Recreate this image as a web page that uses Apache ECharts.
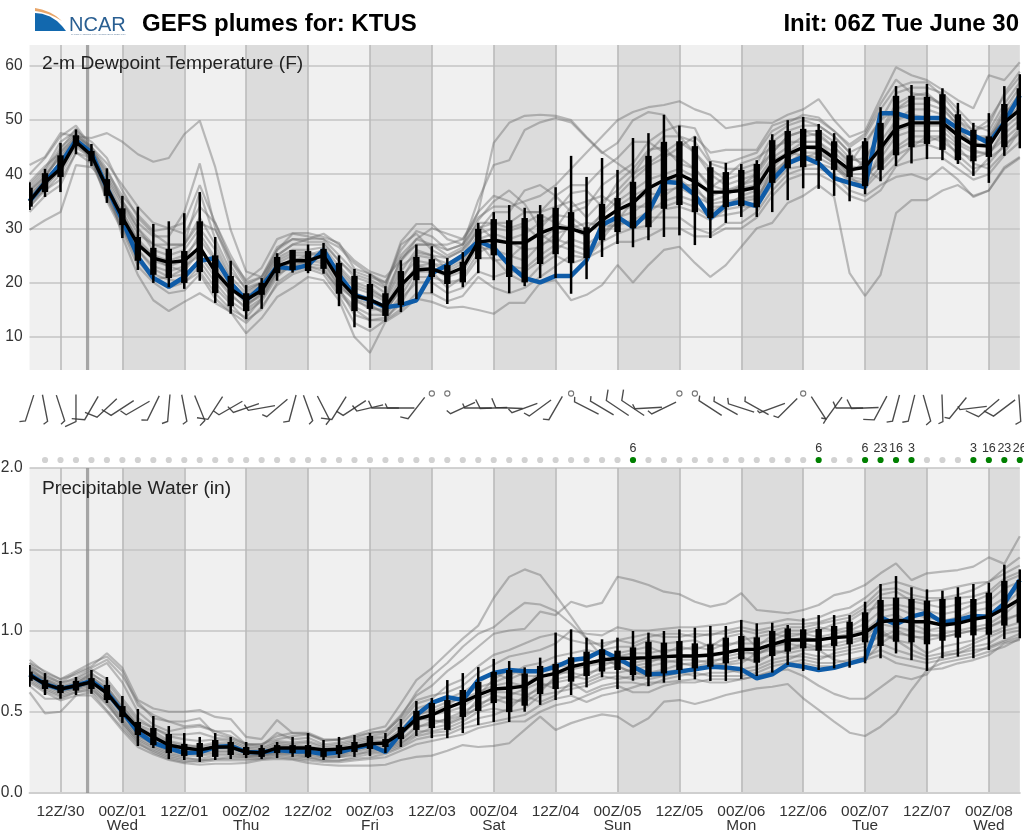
<!DOCTYPE html>
<html><head><meta charset="utf-8"><title>GEFS plumes</title>
<style>html,body{margin:0;padding:0;background:#fff}#c{width:1024px;height:830px;overflow:hidden}</style>
<script src="https://cdn.jsdelivr.net/npm/echarts@6/dist/echarts.min.js"></script></head>
<body><div id="c"></div>
<script>
// x positions are forecast steps (3-hourly, 0 = 06Z Tue June 30)
const tickSteps=[2,6,10,14,18,22,26,30,34,38,42,46,50,54,58,62];
const tickLabels=['12Z/30','00Z/01\nWed','12Z/01','00Z/02\nThu','12Z/02','00Z/03\nFri','12Z/03','00Z/04\nSat','12Z/04','00Z/05\nSun','12Z/05','00Z/06\nMon','12Z/06','00Z/07\nTue','12Z/07','00Z/08\nWed'];
const nightBands=[[6,10],[14,18],[22,26],[30,34],[38,42],[46,50],[54,58],[62,64]];
const nowStep=3.75;
const tTicks=[10,20,30,40,50,60];
const pTicks=[0,0.5,1,1.5,2];

const tMean=[35,38.5,41,46,43.5,37.5,32,27,24.5,23.7,24,26.5,22,18.8,16.8,18.5,23,24,24,25,20.5,17.5,16.8,15.5,19.5,22.3,22.5,21.5,22.7,27.5,27.8,27.3,27.3,29.1,30.2,29.9,29,31.5,33.4,34.7,37.4,38.9,40,38.6,36.7,36.7,37,37.6,42,43.7,45,45,43,40.8,41.3,44.8,48.5,49.5,49.5,49.5,47.2,45.4,45.2,49.6,51.9];
const tDet=[35,38.5,42,46.3,44,37.5,31.5,24.7,20.8,19.2,21,24,24.5,19.9,16.7,19.2,22.9,22.5,23.2,26,21.4,17.7,16.7,15.4,15.8,16.7,21.7,23.2,25,27.6,26.4,23.2,20.8,20,21.2,21.2,24.1,30.6,32.1,30.2,33,38.6,38.4,36.2,31.9,34.3,34.9,34.1,38.9,42,43.2,42,39.3,38.4,37.6,51.3,51.3,50.4,50.4,50.4,48.5,47.2,45.8,49.6,54.6];
const tHi=[38.5,41,45.8,48.3,45.6,41.1,36,34,30.8,31.3,32.8,36.7,28.4,24,19.5,20.8,25.4,26,27,27.3,25,22.5,21.6,19.3,24.1,27,26.7,24.5,25.6,31,33,34.3,33.8,34.3,37.6,43.4,39.5,43,40.8,46.7,47.6,51,49,47,42.4,42.1,41.9,42.6,47.4,50,50.6,49.3,47.6,44.8,46.7,52.4,56.3,56.5,56.7,55.9,53.2,49.5,51.3,56.3,58.5];
const tQ3=[37.5,40.2,43.5,47.2,44.3,39.1,33.7,28.4,26.4,26.2,25.8,31.3,25,21.2,18,19.9,24.7,26,25.8,26.2,23.6,21.2,19.7,18,22.1,24.7,24.3,23.2,23.8,29.9,31.7,31.5,31.9,32.6,33.8,33,30.2,34.5,35.6,38.6,43.4,46,46.1,45.2,41.3,40.4,40.8,41.9,46.3,48,48.4,48.2,46.1,43.5,46.1,49.5,54.5,54.5,54.3,54.8,51.1,48.2,47,53,55.9];
const tQ1=[34,36.7,39.5,45.2,42.4,36,30.6,24,21.4,20.8,19.9,21.9,18,15.6,14.7,17.7,21.7,22.3,22.1,22.5,17.9,14.7,15.1,13.8,15.8,20.4,21,19.7,20,24.3,25,21,20,23.4,25.2,23.6,24.5,27.8,29.3,30,30.2,33.6,34.3,33,31.9,33.9,34.1,33.9,38.4,41.1,41.3,42.5,40.8,39.5,37.8,40.8,43.5,45,45.6,44.5,42.6,42.4,43.2,45,48.2];
const tLo=[33.4,35.8,36.7,43.7,41.5,34.7,28.2,22.3,19.9,19.1,18.8,20.3,16.2,14.2,13.2,15.1,20.3,21.8,21.7,21.6,15.6,11.7,11.6,12.7,14.5,16.9,18,16,19.1,21.7,20.4,18,19.3,20.8,20.8,17.9,20.6,24.7,27.1,26.5,27.8,28.4,28.7,26.9,28.2,31,32.1,32.1,33,35.2,37.4,37.3,36,35,36.3,38.7,41.5,42,42.8,42.6,41.9,39.7,38.4,43.4,44.8];

const tM1=[41.7,43.2,47.6,47,46.7,47.6,46,43.7,42.3,43,47.4,49.9,41.3,29.7,22,21,25,27,28,29,27,24,22,21,24,28,30,29,28,33,36,35,33,33,36,38,38,41,43,46,46,44,43,41,38,37,38,40,44,47,48,48,46,43,42,44,50,52,52,51,48,46,47,52,56];
const tM2=[29.7,31.5,33,41.7,41.3,38.4,28.4,21.4,16.7,14.7,16.4,18,16.2,14.5,10.6,13.4,17.3,19,21,20.4,16.7,9.9,7,12.7,14.5,17,16.4,15.3,15.5,14.9,14.2,16.2,16.2,19.9,20.4,16.7,17.7,19.5,23.2,20,23.2,26,26.6,23.6,21,23.2,26.6,30,31,34.7,36,38,35.8,21.7,17.5,21.4,32.8,35.2,35.2,37,38,36,37,41,43];
const tM3=[38,41,46,48,46,43,37,32,29,27,27,31,29.7,24.1,20.4,22.7,28,29.1,29.1,28.4,27.3,22.5,21.6,19.3,27.5,30.8,30.8,28,27,33,45.8,49.5,50.8,51,50.8,50,46.9,44.1,42,40,42,44,46,44,41,39,40,41,44,47,48,47,45,42,46,50,52,54,54,53,50,47,47,50,54];
const tM4=[36,39,44,47,45,41,35,30,27,26,27,36.7,28,22,19,20,25,27,27,27,24,21,20,18,24,27,27,26,27,35.2,41.7,42.6,48.2,49.6,50.4,49.6,46.7,43.9,45.8,50,51.5,51,47,44,40,38,39,40,46,48,49,49,47,44,41,39,42,45,47,47,45,42,41,44,48];
const tM5=[40,43,47,49,45,42,38,34,31,30,29,34,31,25,20,21,26,29,28.5,28,25,22,21,20,25,28,27,27,28,32,34,34,35,36,38,41,44,47,50,51.5,52.4,52.8,53.5,52,51,48.5,49,49.6,49.5,51,52,53.9,50,46.9,48,54,59.8,58.3,57.4,55.6,53.7,52.2,58.3,57.4,60.7];
const tM6=[33,36,38,44,42,36,30,25,21,19,20,23,19,16,13,15,20,22,23,22,19,14,13,13,17,20,20,18,19,22,21,22,22,24,26,28,27,29,31,31,32,32,32,30,29,31,31,33,37,40,41,41,40,37,36,38,39.5,40,39,41.3,39,35.8,37,41.3,43.2];
const tM7=[37,40,43,47,44.5,39,34,29,27,27,27,32,27,21,18,20,24.5,26,26,26.5,23,20,19,17,23,25,24.5,23.5,25,30,31,31,33,33,34,35,32,35,37,40,44,47,47,46,42,41,41,42,47,49,50,49,47,44,45.5,50,55,56,56,55,52,49,48,53,57];
const tM8=[34,37,40,45,43,36,30.5,24.5,21.5,20.5,20,22,18,15,13.5,17,21.5,23,23,22.5,18,15,13,13.5,16,21,21,20,20.5,24.5,24.5,21.5,20,23,25,23.5,24.5,27.5,29,30,30.5,33.5,34,33,31.5,33.5,34,34,38,41,41.5,42,41,39.5,37.5,40.5,43.5,45,45.5,44.5,42.5,40,43,45,48.5];
const tM9=[36,39,42,46.5,44,38,33,28,25,24,25,28,24,19.5,17,19,23.5,25,25,26,21,18,17,15.5,21,24,23.5,22,23.5,28,29,28,29,31,32.5,32,30,32.5,35,37,39,40,41,39.5,36,37,37.5,38,42.5,44,46,46,44,41.5,41,46,50,51,50.5,50,47.5,46,45,50,52.5];
const tM10=[35.5,38,41.5,45.5,43,37,31.5,26,23,22,23,25,21,17.5,15.5,18,22,24,24.5,24.5,20,16.5,15.5,14.5,19,23,22.5,21,22,26.5,26,25,24,27,28,27,26,29,32,33,35,37,37.5,36,34.5,35,35.5,36,40,42,44,44,42,39.5,39,43,47,48,48,48,45.5,44,44,47.5,50];
const tM11=[37.5,40.5,45,47.5,45,40,35,31,28.5,28.5,33,42,30,23,18.5,20,26,28,27.5,27.5,24,21.5,20.5,19,27,29,26,24.5,26,29.5,33,33,37,38,36,33,34,38,40,42,46,48,49,48.5,42.5,42,43,44,48,49.5,51,50.5,48,45,47,52,56,57,57,54.5,51,48,49,55,59];
const tM12=[35,37,39,44,43,35,29.5,23,20,18,18.5,21.5,17,14.5,12.5,15.5,19.5,21.5,22.5,21.5,17.5,12.5,11,13,15,18,18,16.5,17.5,21,19,18,19,21,23,25,24.5,26,27.5,27.5,28.5,30,30,28.5,28.5,30,30,32,36,39,40,40,38.5,36,35,37,41.5,42.5,43,43,41,39,40,43.5,46];
const tM13=[36.5,39.5,44.5,48.5,44.5,40.5,36,32.5,29.5,30,31,38,31,24,19.5,21,26.5,28,28,28,26.5,23.5,21.5,20,26,29.5,28.5,26,27,31,31,30,31,32.5,31,30,28.5,33,36,39,41.5,43,45,47,44,44.5,44.5,44.5,49,50,50.5,50,48,45.5,47.5,53,57.5,55,54.5,53,50,48,50,54.5,58];
const tM14=[34.5,38,42,46,44,37.5,32,27.5,24,23,22,26,23,19,16,18,22.5,24.5,24,23.5,19.5,17,16,14,20,25.5,25,24.5,26,30.5,28,27.5,26,26.5,29,30,31,30.5,30.5,31.5,33,35,36,35,33,34.5,35,35.5,39.5,43,45,44.5,42.5,40,40,42,45,47,47,46,44,43,44,46.5,49];
const tM15=[37,39.5,43.5,46.5,43.5,38.5,33,27.5,24.5,23,24,29,24.5,20,17.5,19.5,24,25.5,25.5,25,22,19,18,16.5,22,26,25,22.5,24,29,30,29.5,30.5,28,30,34,35,36,34,36,37.5,39,39,37,35,36,38,39,43,45,47,47.5,45,42.5,43,47.5,52,53,53,52,49,47,46.5,51,55];
const tM16=[34,37.5,41,45.5,43.5,36.5,31,26,22.5,21,21.5,24,20,16.5,14.5,16.5,21,23.5,23.5,23,18.5,15.5,14,14,17.5,22,22,19,21,25.5,27,23,22.5,25,27,31,29,31,33.5,34,34,34,35,34,32,32.5,33,35,41,44,43.5,43,41.5,38.5,38,41.5,44.5,46,46,47,43.5,41,42,45.5,47.5];
const tM17=[38.5,41.5,44,47.5,44.5,39.5,34.5,30,26,25,26,30,26,20.5,16,17.5,22,24,25,25,22.5,19.5,18.5,17,24.5,27,27,25,26.5,31.5,35,37,34.5,30,33,36.5,37,34,38.5,41,44.5,45,42,41,37.5,39.5,42,43,45,46,46,46,43,40,42.5,48,53,54.5,55,52.5,49,45,46,51.5,53.5];
const tM18=[35,38,40.5,46,43,35.5,30,24,20.5,21,22.5,27,21.5,18,15,17,22,23,24,24,19,17,15,15,18.5,23,23.5,23,24.5,27.5,24,24.5,27,29,27,26,25,28,31.5,35,36.5,36,38,38,34,34,36,37,40.5,42.5,43,44,42,39,38.5,44,48,49,49,49,46,44.5,43.5,48.5,51];

const pMean=[.726,.67,.64,.66,.683,.615,.5,.4,.345,.295,.277,.265,.283,.283,.252,.246,.277,.277,.277,.265,.27,.283,.302,.308,.369,.455,.48,.523,.56,.603,.64,.646,.658,.716,.736,.777,.798,.818,.829,.829,.833,.839,.843,.843,.849,.864,.884,.884,.915,.942,.942,.942,.956,.962,.987,1.054,1.065,1.054,1.054,1.034,1.044,1.069,1.085,1.136,1.192];
const pDet=[.73,.67,.64,.66,.69,.62,.5,.375,.308,.277,.246,.25,.283,.29,.252,.25,.265,.255,.255,.24,.25,.277,.295,.252,.369,.48,.554,.59,.572,.695,.738,.757,.75,.75,.777,.818,.829,.876,.829,.777,.73,.736,.747,.761,.777,.773,.761,.706,.73,.792,.777,.757,.771,.798,.823,1.081,1.038,1.085,1.11,1.05,1.065,1.089,1.085,1.167,1.311];
const pHi=[.788,.738,.69,.714,.757,.714,.597,.517,.474,.412,.369,.345,.369,.345,.314,.295,.314,.345,.369,.326,.345,.357,.369,.369,.455,.566,.585,.695,.738,.775,.825,.812,.773,.833,.987,1.007,.956,.946,.956,.997,.987,.997,1.007,1.017,1.028,1.028,1.065,1.044,1.048,1.034,1.075,1.095,1.095,1.095,1.177,1.286,1.335,1.266,1.253,1.245,1.266,1.286,1.294,1.405,1.376];
const pQ3=[.747,.695,.665,.69,.707,.665,.535,.437,.4,.363,.302,.308,.326,.314,.283,.277,.295,.295,.295,.277,.295,.314,.351,.332,.406,.505,.554,.572,.634,.683,.745,.757,.736,.782,.794,.835,.87,.884,.876,.896,.931,.925,.935,.921,.915,.956,.966,.958,.997,1.013,1.007,1.009,1.028,1.054,1.112,1.188,1.202,1.194,1.184,1.194,1.208,1.194,1.233,1.305,1.311];
const pQ1=[.69,.64,.615,.63,.64,.572,.468,.357,.295,.246,.228,.222,.222,.234,.234,.222,.246,.246,.222,.222,.24,.252,.271,.283,.332,.388,.4,.388,.468,.505,.554,.498,.537,.609,.64,.685,.72,.747,.757,.726,.716,.736,.757,.767,.777,.798,.823,.802,.843,.87,.89,.876,.905,.915,.927,.905,.931,.927,.915,.937,.956,.97,.974,1.03,1.048];
const pLo=[.654,.603,.58,.603,.61,.554,.431,.289,.277,.209,.203,.191,.203,.209,.215,.209,.215,.222,.215,.203,.215,.222,.228,.246,.283,.351,.338,.338,.369,.418,.437,.437,.5,.542,.572,.603,.65,.712,.64,.691,.658,.679,.695,.7,.689,.689,.702,.72,.741,.788,.751,.757,.767,.771,.798,.829,.859,.818,.751,.829,.839,.829,.88,.948,.952];

const pM1=[.78,.73,.68,.74,.78,.86,.77,.572,.52,.5,.5,.51,.468,.455,.345,.332,.449,.369,.363,.326,.326,.357,.388,.41,.55,.695,.769,.86,.95,1.03,1.2,1.33,1.376,1.342,1.218,1.085,.95,.84,.78,.74,.72,.72,.74,.76,.78,.8,.82,.82,.85,.88,.9,.88,.82,.8,.82,.92,.98,.97,.94,.96,.98,1,1.02,1.07,1.1];
const pM2=[.8,.72,.68,.7,.75,.8,.68,.5,.42,.38,.4,.41,.38,.38,.3,.3,.35,.37,.37,.33,.33,.34,.37,.38,.48,.6,.66,.75,.82,.9,.98,1,1.01,1.116,1.095,1.177,1.147,1.17,1.331,1.31,1.28,1.239,1.223,1.177,1.147,1.167,1.229,1.126,1.116,1.106,1.126,1.157,1.218,1.239,1.28,1.352,1.413,1.31,1.352,1.362,1.372,1.393,1.45,1.41,1.58];
const pM3=[.62,.49,.5,.6,.6,.5,.385,.283,.238,.203,.184,.174,.18,.18,.185,.203,.21,.205,.185,.174,.168,.168,.168,.174,.203,.222,.23,.26,.295,.283,.29,.306,.388,.47,.388,.43,.46,.484,.47,.408,.46,.562,.572,.548,.572,.603,.624,.644,.654,.671,.583,.511,.439,.371,.351,.408,.49,.634,.757,.767,.798,.818,.849,.921,.942];
const pM4=[.8,.75,.7,.73,.77,.82,.72,.56,.46,.44,.41,.42,.38,.35,.3,.3,.33,.35,.36,.32,.33,.35,.37,.38,.46,.57,.6,.62,.66,.74,.79,.84,.86,.88,.92,1,.98,.97,1.02,1,1,1.01,1.02,1.02,1.03,1.04,1.06,1.04,1.05,1.07,1.06,1.08,1.12,1.14,1.2,1.28,1.3,1.27,1.24,1.25,1.27,1.29,1.3,1.38,1.45];
const pM5=[.66,.58,.58,.62,.63,.54,.43,.33,.28,.24,.22,.2,.21,.22,.22,.23,.24,.23,.22,.2,.2,.21,.22,.24,.28,.33,.35,.36,.4,.42,.44,.46,.48,.54,.58,.6,.56,.6,.62,.65,.68,.68,.69,.7,.68,.68,.7,.72,.75,.76,.72,.66,.61,.58,.58,.65,.72,.7,.73,.85,.86,.88,.89,.93,.96];
const pM6=[.75,.7,.65,.68,.72,.64,.53,.42,.38,.32,.3,.28,.3,.3,.26,.25,.29,.28,.28,.26,.26,.29,.31,.31,.37,.47,.52,.56,.58,.62,.66,.68,.66,.74,.8,.8,.84,.88,.9,.9,.94,.92,.93,.94,.9,.96,.98,.9,.97,1,1,1.02,1,1.02,1.08,1.2,1.2,1.2,1.18,1.19,1.2,1.21,1.24,1.32,1.36];
const pM7=[.72,.66,.62,.65,.67,.58,.46,.35,.31,.27,.24,.24,.25,.26,.24,.23,.26,.26,.25,.23,.23,.26,.28,.28,.33,.41,.42,.46,.5,.55,.58,.55,.58,.66,.68,.7,.74,.76,.78,.74,.74,.76,.79,.8,.82,.82,.84,.8,.86,.88,.92,.9,.9,.92,.95,1,.94,.92,.86,.9,.92,.94,.98,1.02,1.05];
const pM8=[.74,.68,.64,.66,.7,.63,.5,.39,.33,.29,.27,.26,.29,.29,.26,.25,.27,.28,.27,.25,.26,.28,.3,.3,.36,.44,.48,.5,.53,.6,.7,.76,.72,.72,.74,.74,.72,.78,.82,.78,.8,.84,.85,.84,.84,.86,.88,.85,.9,.93,.96,.94,.96,.98,1,1.08,1.1,1.04,1,1.02,1.05,1.08,1.1,1.16,1.24];
const pM9=[.7,.64,.6,.63,.65,.55,.44,.32,.27,.23,.21,.21,.23,.23,.22,.22,.24,.24,.22,.21,.22,.24,.25,.26,.3,.38,.38,.4,.44,.5,.52,.5,.52,.6,.62,.64,.66,.7,.72,.7,.72,.74,.76,.76,.78,.76,.74,.76,.8,.82,.86,.84,.84,.86,.88,.92,.88,.85,.82,.84,.86,.9,.92,.98,1];
const pM10=[.76,.7,.66,.69,.73,.68,.56,.44,.4,.35,.33,.32,.33,.32,.28,.27,.31,.3,.31,.28,.29,.31,.33,.34,.42,.52,.55,.58,.62,.68,.74,.7,.74,.76,.78,.78,.8,.82,.86,.88,.9,.86,.9,.88,.92,.9,.94,.96,.98,.96,.98,1,1.04,1.06,1.12,1.15,1.16,1.14,1.12,1.1,1.12,1.16,1.18,1.26,1.3];
const pM11=[.77,.69,.63,.67,.74,.66,.52,.38,.34,.3,.28,.27,.27,.27,.25,.24,.28,.27,.26,.24,.24,.27,.29,.29,.35,.46,.45,.43,.47,.58,.62,.62,.6,.64,.7,.72,.7,.74,.74,.76,.78,.8,.82,.82,.8,.79,.8,.86,.88,.86,.88,.88,.88,.9,.92,.96,1,.96,.96,.98,1,1.02,1.04,1.1,1.18];
const pM12=[.68,.62,.57,.6,.62,.51,.4,.3,.26,.22,.2,.19,.2,.2,.2,.21,.22,.21,.2,.19,.19,.2,.21,.22,.26,.3,.32,.34,.36,.4,.42,.44,.44,.5,.54,.56,.6,.64,.66,.62,.62,.66,.68,.68,.7,.7,.7,.72,.74,.78,.8,.78,.78,.8,.82,.85,.8,.78,.76,.8,.82,.84,.87,.9,.95];
const pM13=[.82,.74,.7,.75,.8,.84,.75,.54,.48,.44,.44,.46,.36,.34,.3,.29,.37,.33,.34,.3,.31,.33,.35,.37,.47,.62,.72,.8,.9,.98,1.02,1.1,1.17,1.16,1.12,1.04,.95,.9,.94,.96,.98,.96,.96,.98,.97,1,1.02,1,1.02,1.04,1.04,1.05,1.08,1.1,1.16,1.25,1.26,1.22,1.2,1.2,1.22,1.25,1.3,1.35,1.4];
const pM14=[.73,.67,.63,.64,.68,.6,.48,.36,.3,.26,.25,.25,.26,.25,.23,.24,.25,.25,.24,.22,.23,.25,.27,.27,.32,.4,.44,.45,.48,.52,.56,.6,.64,.68,.64,.66,.68,.72,.7,.72,.7,.72,.74,.72,.74,.74,.76,.78,.82,.84,.84,.82,.86,.88,.9,.98,.94,.88,.84,.86,.88,.92,.96,1,1.02];
const pM15=[.71,.65,.61,.64,.66,.57,.45,.34,.29,.25,.23,.23,.24,.24,.23,.23,.25,.25,.23,.22,.22,.23,.26,.27,.31,.36,.4,.42,.46,.53,.6,.58,.56,.62,.72,.76,.78,.8,.8,.8,.82,.82,.8,.78,.8,.84,.86,.86,.9,.92,.9,.9,.92,.94,.96,1.04,1.02,1,.98,.96,.98,1,1.02,1.06,1.1];
const pM16=[.74,.69,.65,.67,.71,.65,.54,.41,.36,.31,.29,.29,.31,.31,.27,.26,.3,.29,.29,.27,.28,.3,.32,.32,.39,.49,.5,.54,.6,.65,.68,.72,.78,.8,.84,.86,.88,.86,.84,.86,.86,.88,.88,.9,.88,.92,.92,.92,.94,.98,.98,.96,.98,1,1.04,1.12,1.14,1.1,1.08,1.06,1.08,1.12,1.14,1.2,1.26];
const pM17=[.69,.63,.59,.62,.64,.56,.42,.31,.25,.21,.19,.2,.21,.21,.21,.21,.23,.22,.21,.2,.2,.22,.24,.25,.29,.35,.37,.38,.42,.46,.48,.52,.6,.56,.6,.68,.62,.66,.68,.68,.66,.7,.72,.74,.72,.72,.72,.74,.78,.8,.82,.8,.8,.82,.84,.88,.84,.82,.8,.82,.84,.86,.9,.94,.98];
const pM18=[.78,.71,.67,.71,.76,.7,.58,.46,.4,.36,.36,.37,.34,.33,.29,.28,.32,.31,.32,.29,.3,.32,.34,.35,.44,.55,.58,.66,.7,.78,.85,.88,.92,.96,.98,.94,.92,.92,.94,.92,.96,.98,.98,.96,.98,.98,1,.98,1,1.02,1.02,1.04,1.06,1.08,1.14,1.22,1.24,1.18,1.16,1.14,1.16,1.18,1.22,1.3,1.34];

// wind: azimuth of the staff tip (deg) and speed (0 = calm)
const windAz=[18,349,342,0,30,47,57,60,26,5,349,338,33,60,71,80,50,15,340,333,32,57,77,90,90,38,0,0,65,90,88,92,70,54,30,0,117,121,124,124,87,64,0,0,123,119,108,119,70,45,0,327,36,90,88,28,15,14,344,358,39,83,50,53,356];
const windSpd=[6,5,5,12,13,13,11,7,6,6,5,7,11,7,8,7,5,6,5,6,11,8,7,8,5,8,0,0,5,5,10,10,5,6,6,0,5,5,11,11,5,5,0,0,5,5,6,5,3,5,0,5,5,7,10,11,6,6,6,5,5,4,14,11,6];
const precipLabels=['','','','','','','','','','','','','','','','','','','','','','','','','','','','','','','','','','','','','','','','6','','','','','','','','','','','','6','','','6','23','16','3','','','','3','16','23','26'];
const logoBlue=[[35,13],[42,13.8],[50,16.5],[57,21],[62,26],[66,31],[35,31]];
const logoOrange=[[35,8],[42,9.5],[50,12.5],[56,16],[62,21],[55,17],[48,14],[41,12],[35,11]];

const FONT='"Liberation Sans",Arial,sans-serif';
const BARB_ROW=38, DOT_ROW=90, STAFF=27;
const tMembers=[tM1,tM2,tM3,tM4,tM5,tM6,tM7,tM8,tM9,tM10,tM11,tM12,tM13,tM14,tM15,tM16,tM17,tM18];
const pMembers=[pM1,pM2,pM3,pM4,pM5,pM6,pM7,pM8,pM9,pM10,pM11,pM12,pM13,pM14,pM15,pM16,pM17,pM18];
const pairs=a=>a.map((v,i)=>[i,v]);

function xAxis(gridIndex,labels){return {type:'value',gridIndex,min:0,max:64,
  axisLine:{show:labels,onZero:false,lineStyle:{color:'#cfcfcf',width:2}},
  axisTick:{show:false,customValues:tickSteps},
  axisLabel:{show:labels,customValues:tickSteps,margin:11,fontFamily:FONT,fontSize:15.4,lineHeight:14.5,color:'#333',
    formatter:v=>tickLabels[tickSteps.indexOf(v)]||''},
  splitLine:{show:gridIndex!==1,lineStyle:{color:'#b9b9b9',width:1.5}}};}
function yAxis(gridIndex,min,max,ticks,fmt){return {type:'value',gridIndex,min,max,
  axisLine:{show:false},axisTick:{show:false,customValues:ticks},
  axisLabel:{customValues:ticks,margin:7,fontFamily:FONT,fontSize:15.6,color:'#333',formatter:fmt},
  splitLine:{lineStyle:{color:'#c4c4c4',width:1.5}}};}

function bandSeries(ax,ymin,ymax){
  const rect=(d,fill,api)=>{const a=api.coord([d[0],ymax]),b=api.coord([d[1],ymin]);
    return {type:'rect',shape:{x:a[0],y:a[1],width:b[0]-a[0],height:b[1]-a[1]},style:{fill}};};
  return [
   {type:'custom',xAxisIndex:ax,yAxisIndex:ax,z:-2,silent:true,data:[[0,64]],
    renderItem:(p,api)=>rect([api.value(0),api.value(1)],'#f0f0f0',api)},
   {type:'custom',xAxisIndex:ax,yAxisIndex:ax,z:-1,silent:true,data:nightBands,
    renderItem:(p,api)=>rect([api.value(0),api.value(1)],'#dcdcdc',api)},
   {type:'custom',xAxisIndex:ax,yAxisIndex:ax,z:1,silent:true,data:[[nowStep]],
    renderItem:(p,api)=>{const a=api.coord([api.value(0),ymax]),b=api.coord([api.value(0),ymin]);
      return {type:'line',shape:{x1:a[0],y1:a[1],x2:b[0],y2:b[1]},style:{stroke:'rgba(140,140,140,.75)',lineWidth:3.2}};}}
  ];
}
function panelSeries(ax,members,det,mean,lo,q1,q3,hi){
  const out=members.map(m=>({type:'line',xAxisIndex:ax,yAxisIndex:ax,z:3,silent:true,symbol:'none',data:pairs(m),
    lineStyle:{color:'rgba(105,105,105,.42)',width:2.2}}));
  out.push({type:'line',xAxisIndex:ax,yAxisIndex:ax,z:4,silent:true,symbol:'none',data:pairs(det),lineStyle:{color:'#0f5ca8',width:4.5}});
  out.push({type:'custom',xAxisIndex:ax,yAxisIndex:ax,z:5,silent:true,clip:true,
    data:lo.map((v,i)=>[i,v,q1[i],q3[i],hi[i]]),
    renderItem:(p,api)=>{const i=api.value(0),a=api.coord([i,api.value(1)]),b=api.coord([i,api.value(2)]),
        c=api.coord([i,api.value(3)]),d=api.coord([i,api.value(4)]);
      return {type:'group',children:[
        {type:'line',shape:{x1:a[0],y1:a[1],x2:d[0],y2:d[1]},style:{stroke:'#000',lineWidth:2.5}},
        {type:'rect',shape:{x:c[0]-3.2,y:c[1],width:6.4,height:b[1]-c[1]},style:{fill:'#000'}}]};}});
  out.push({type:'line',xAxisIndex:ax,yAxisIndex:ax,z:6,silent:true,symbol:'none',data:pairs(mean),lineStyle:{color:'#000',width:3.4}});
  return out;
}
const barbSeries={type:'custom',xAxisIndex:1,yAxisIndex:1,z:3,silent:true,clip:false,
  data:windAz.map((a,i)=>[i,a,windSpd[i]]),
  renderItem:(p,api)=>{
    const c=api.coord([api.value(0),BARB_ROW]),az=api.value(1)*Math.PI/180,spd=api.value(2);
    if(spd===0) return {type:'circle',shape:{cx:c[0],cy:c[1]-14.5,r:2.6},style:{fill:'none',stroke:'#777',lineWidth:1.1}};
    const sx=Math.sin(az),sy=-Math.cos(az),t=[c[0]+sx*STAFF/2,c[1]+sy*STAFF/2],e=[c[0]-sx*STAFF/2,c[1]-sy*STAFF/2];
    const rot=65*Math.PI/180,hx=-sx,hy=-sy,fx=hx*Math.cos(rot)-hy*Math.sin(rot),fy=hx*Math.sin(rot)+hy*Math.cos(rot);
    return {type:'polyline',shape:{points:[t,e,[e[0]+fx*spd,e[1]+fy*spd]]},style:{fill:'none',stroke:'rgba(55,55,55,.9)',lineWidth:1.35}};
  }};
const dotSeries={type:'scatter',xAxisIndex:1,yAxisIndex:1,z:3,silent:true,symbolSize:6.2,clip:false,
  data:precipLabels.map((s,i)=>i===0?null:({value:[i,DOT_ROW],itemStyle:{color:s?'#008000':'#d2d2d2',opacity:1},
    label:{show:!!s,formatter:s,position:'top',distance:2,fontFamily:FONT,fontSize:12.5,color:'#333'}})).filter(Boolean)};

const textTitle=(text,pos,size,weight,color)=>Object.assign({text,padding:0,z:9,
  textStyle:{fontFamily:FONT,fontSize:size,fontWeight:weight,color}},pos);

const chart=echarts.init(document.getElementById('c'),null,{renderer:'canvas',width:1024,height:830});
chart.setOption({animation:false,backgroundColor:'#fff',
 title:[
  textTitle('GEFS plumes for: KTUS',{left:142,top:12},24,'bold','#000'),
  textTitle('Init: 06Z Tue June 30',{right:5,top:12},24,'bold','#000'),
  textTitle('2-m Dewpoint Temperature (F)',{left:42,top:54},19.2,'normal','#222'),
  textTitle('Precipitable Water (in)',{left:42,top:479},19.2,'normal','#222')
 ],
 grid:[
  {left:29.55,width:990.25,top:45,height:325,outerBoundsMode:'none'},
  {left:29.55,width:990.25,top:370,height:98,outerBoundsMode:'none'},
  {left:29.55,width:990.25,top:468,height:325,outerBoundsMode:'none'}],
 xAxis:[xAxis(0,false),xAxis(1,false),xAxis(2,true)],
 yAxis:[yAxis(0,3.8,63.9,tTicks,v=>String(v)),
  {type:'value',gridIndex:1,min:0,max:98,inverse:true,show:false},
  yAxis(2,0,2,pTicks,v=>v.toFixed(1))],
 graphic:[
  {type:'polygon',silent:true,shape:{points:logoBlue},style:{fill:'#1268ae'}},
  {type:'polygon',silent:true,shape:{points:logoOrange},style:{fill:'#e8a66a'}},
  {type:'text',x:69,y:15,silent:true,style:{text:'NCAR',fontFamily:FONT,fontSize:20,fill:'#2a5f92'}},
  {type:'text',x:71,y:33,silent:true,style:{text:'NATIONAL CENTER FOR ATMOSPHERIC RESEARCH',fontFamily:FONT,fontSize:2.2,fill:'#6a86a4'}}
 ],
 series:[].concat(
  bandSeries(0,3.8,63.9),bandSeries(2,0,2),
  panelSeries(0,tMembers,tDet,tMean,tLo,tQ1,tQ3,tHi),
  panelSeries(2,pMembers,pDet,pMean,pLo,pQ1,pQ3,pHi),
  [barbSeries,dotSeries])
});
</script></body></html>
